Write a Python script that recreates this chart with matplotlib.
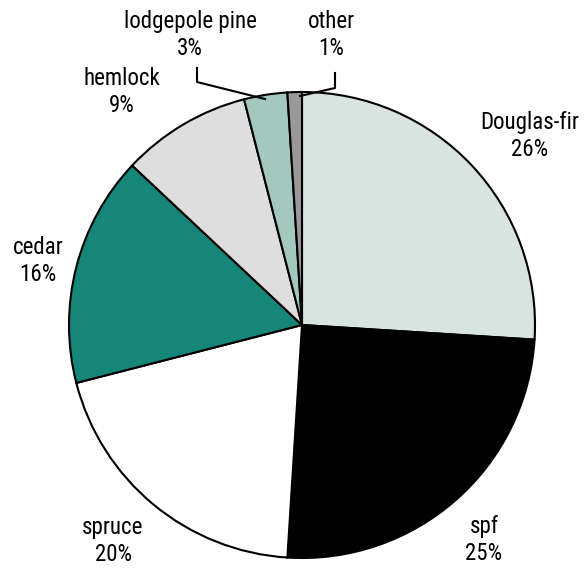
import matplotlib
matplotlib.use("Agg")
import matplotlib.pyplot as plt
from matplotlib import font_manager
from matplotlib.font_manager import FontProperties

species = ["Douglas-fir", "spf", "spruce", "cedar", "hemlock", "lodgepole pine", "other"]
shares = [26, 25, 20, 16, 9, 3, 1]
colors = ["#d8e4e0", "#000000", "#ffffff", "#168678", "#dedede", "#a2c8bf", "#999999"]


def narrow_font(size):
    files = [f.fname for f in font_manager.fontManager.ttflist]
    prefs = ["RobotoCondensed-Regular", "LiberationSansNarrow-Regular",
             "Roboto_Condensed-Regular", "DejaVuSansCondensed.ttf"]
    for p in prefs:
        for fn in files:
            if p in fn:
                return FontProperties(fname=fn, size=size)
    for fn in files:
        low = fn.lower()
        if ("condensed" in low or "narrow" in low) and "bold" not in low and "italic" not in low and "oblique" not in low:
            return FontProperties(fname=fn, size=size)
    return FontProperties(family="DejaVu Sans", size=size)


fp = narrow_font(16.5)

W, H = 584, 571
fig = plt.figure(figsize=(W / 100, H / 100), dpi=100)
ax = fig.add_axes([0, 0, 1, 1])

cx, cy, r = 302, H - 325, 233
ax.pie(shares, colors=colors, startangle=90, counterclock=False,
       center=(cx, cy), radius=r,
       wedgeprops=dict(edgecolor="black", linewidth=1.5))
ax.set_xlim(0, W)
ax.set_ylim(0, H)
ax.set_aspect("equal")
ax.set_axis_off()

label_pos = {
    "Douglas-fir": (530, 136),
    "spf": (484, 540),
    "spruce": (113, 541),
    "cedar": (38, 261),
    "hemlock": (122, 92),
    "lodgepole pine": (190, 35),
    "other": (331, 35),
}
for name, val in zip(species, shares):
    x, y = label_pos[name]
    ax.text(x, H - y, f"{name}\n{val}%", ha="center", va="center",
            fontproperties=fp, linespacing=1.2)

ax.plot([197, 197, 265], [H - 68, H - 82, H - 99], color="black", lw=1.5)
ax.plot([335, 335, 300], [H - 73, H - 88, H - 96], color="black", lw=1.5)

fig.savefig("out.png", dpi=100)
